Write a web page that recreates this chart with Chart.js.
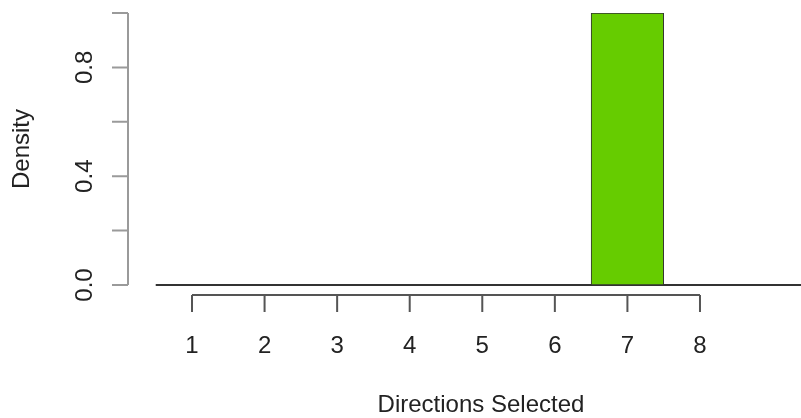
<!DOCTYPE html>
<html>
<head>
<meta charset="utf-8">
<script src="https://cdn.jsdelivr.net/npm/chart.js@4/dist/chart.umd.min.js"></script>
<style>
  html, body { margin: 0; padding: 0; background: #fff; }
  #wrap { width: 801px; height: 418px; }
</style>
</head>
<body>
<div id="wrap"><canvas id="histChart" width="801" height="418"></canvas></div>
<script>
// 히스토그램 데이터
const categories = [1, 2, 3, 4, 5, 6, 7, 8, 9];
const density = [0, 0, 0, 0, 0, 0, 1, 0, 0];
const xTicks = [1, 2, 3, 4, 5, 6, 7, 8];
const yTicks = [0, 0.2, 0.4, 0.6, 0.8, 1.0];
const yTickLabels = ['0.0', '', '0.4', '', '0.8', ''];

const FONT = '24px "Liberation Sans", Arial, sans-serif';

// R 스타일 축 그리기 (축이 플롯 영역에서 떨어져 있음)
const rAxes = {
    id: 'rAxes',
    afterDraw(chart) {
        const { ctx } = chart;
        const xs = chart.scales.x;
        const ys = chart.scales.y;
        ctx.save();

        // y축
        const yAxisX = 128;
        ctx.strokeStyle = '#9a9a9a';
        ctx.lineWidth = 2;
        ctx.beginPath();
        ctx.moveTo(yAxisX, ys.getPixelForValue(yTicks[0]));
        ctx.lineTo(yAxisX, ys.getPixelForValue(yTicks[yTicks.length - 1]));
        yTicks.forEach(v => {
            const py = ys.getPixelForValue(v);
            ctx.moveTo(yAxisX, py);
            ctx.lineTo(yAxisX - 16, py);
        });
        ctx.stroke();

        ctx.fillStyle = '#222';
        ctx.font = FONT;
        ctx.textAlign = 'center';
        ctx.textBaseline = 'alphabetic';
        yTicks.forEach((v, i) => {
            if (!yTickLabels[i]) return;
            ctx.save();
            ctx.translate(92, ys.getPixelForValue(v));
            ctx.rotate(-Math.PI / 2);
            ctx.fillText(yTickLabels[i], 0, 0);
            ctx.restore();
        });

        // x축
        const xAxisY = 295;
        ctx.strokeStyle = '#555';
        ctx.lineWidth = 2;
        ctx.beginPath();
        ctx.moveTo(xs.getPixelForValue(xTicks[0]), xAxisY);
        ctx.lineTo(xs.getPixelForValue(xTicks[xTicks.length - 1]), xAxisY);
        xTicks.forEach(v => {
            const px = xs.getPixelForValue(v);
            ctx.moveTo(px, xAxisY);
            ctx.lineTo(px, xAxisY + 17);
        });
        ctx.stroke();

        xTicks.forEach(v => {
            ctx.fillText(String(v), xs.getPixelForValue(v), 353);
        });

        // 축 제목
        ctx.fillText('Directions Selected', 481, 412);
        ctx.save();
        ctx.translate(29, (ys.top + ys.bottom) / 2);
        ctx.rotate(-Math.PI / 2);
        ctx.fillText('Density', 0, 0);
        ctx.restore();

        ctx.restore();
    }
};

const binStart = categories[0] - 0.5;
const binEnd = categories[categories.length - 1] + 0.5;

new Chart(document.getElementById('histChart'), {
    data: {
        datasets: [
            {
                type: 'bar',
                data: categories.map((c, i) => ({ x: c, y: density[i] })),
                backgroundColor: '#66CC00',
                borderColor: '#333',
                borderWidth: 1,
                borderSkipped: false,
                barPercentage: 1,
                categoryPercentage: 1
            },
            {
                type: 'line',
                data: [{ x: binStart, y: 0 }, { x: binEnd, y: 0 }],
                borderColor: '#333',
                borderWidth: 2,
                pointRadius: 0,
                clip: false
            }
        ]
    },
    options: {
        responsive: false,
        animation: false,
        devicePixelRatio: 1,
        layout: { padding: { left: 128, top: 13, right: 0, bottom: 133 } },
        plugins: { legend: { display: false }, tooltip: { enabled: false } },
        scales: {
            x: {
                type: 'linear', min: 0.118, max: 9.392, offset: false, display: false,
                // 막대 폭 계산이 정수 간격을 쓰도록 틱을 구간 중심으로 맞춤
                afterBuildTicks: s => { s.ticks = categories.map(v => ({ value: v })); }
            },
            y: { type: 'linear', min: 0, max: 1, display: false }
        }
    },
    plugins: [rAxes]
});
</script>
</body>
</html>
